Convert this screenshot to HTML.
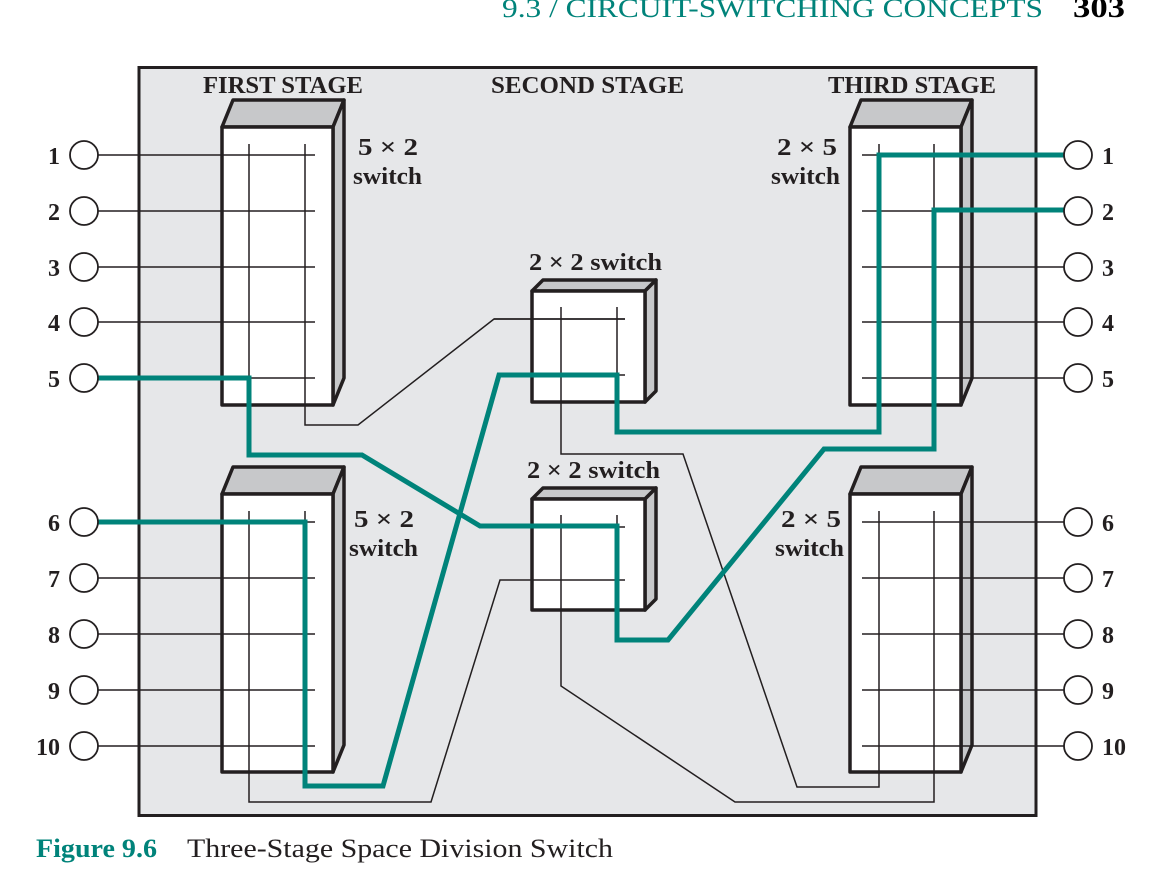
<!DOCTYPE html>
<html><head><meta charset="utf-8"><style>
html,body{margin:0;padding:0;background:#fff;}
svg{display:block;}
text{font-family:"Liberation Serif",serif;}
</style></head><body>
<svg width="1172" height="872" viewBox="0 0 1172 872" xmlns="http://www.w3.org/2000/svg">
<text x="502" y="17" font-size="26" fill="#00837a" textLength="541" lengthAdjust="spacingAndGlyphs">9.3 / CIRCUIT-SWITCHING CONCEPTS</text>
<text x="1073" y="17" font-size="28" font-weight="bold" fill="#000" textLength="52" lengthAdjust="spacingAndGlyphs">303</text>

<rect x="139" y="67.5" width="897" height="748" fill="#e6e7e9" stroke="#231f20" stroke-width="3"/>

<g font-size="24" font-weight="bold" fill="#231f20">
<text x="203" y="93" textLength="160" lengthAdjust="spacingAndGlyphs">FIRST STAGE</text>
<text x="491" y="93" textLength="193" lengthAdjust="spacingAndGlyphs">SECOND STAGE</text>
<text x="828" y="93" textLength="168" lengthAdjust="spacingAndGlyphs">THIRD STAGE</text>
<text x="358" y="155" textLength="60" lengthAdjust="spacingAndGlyphs">5 × 2</text>
<text x="353" y="184" textLength="69" lengthAdjust="spacingAndGlyphs">switch</text>
<text x="354" y="527" textLength="60" lengthAdjust="spacingAndGlyphs">5 × 2</text>
<text x="349" y="556" textLength="69" lengthAdjust="spacingAndGlyphs">switch</text>
<text x="777" y="155" textLength="60" lengthAdjust="spacingAndGlyphs">2 × 5</text>
<text x="771" y="184" textLength="69" lengthAdjust="spacingAndGlyphs">switch</text>
<text x="781" y="527" textLength="60" lengthAdjust="spacingAndGlyphs">2 × 5</text>
<text x="775" y="556" textLength="69" lengthAdjust="spacingAndGlyphs">switch</text>
<text x="529" y="270" textLength="133" lengthAdjust="spacingAndGlyphs">2 × 2 switch</text>
<text x="527" y="478" textLength="133" lengthAdjust="spacingAndGlyphs">2 × 2 switch</text>
</g>

<g stroke="#231f20" stroke-width="3.5" stroke-linejoin="round">
<polygon points="222,127 233,100 344,100 333,127" fill="#c7c8ca"/>
<polygon points="333,127 344,100 344,378 333,405" fill="#c7c8ca"/>
<rect x="222" y="127" width="111" height="278" fill="#fff"/>
<polygon points="222,494 233,467 344,467 333,494" fill="#c7c8ca"/>
<polygon points="333,494 344,467 344,745 333,772" fill="#c7c8ca"/>
<rect x="222" y="494" width="111" height="278" fill="#fff"/>
<polygon points="850,127 861,100 972,100 961,127" fill="#c7c8ca"/>
<polygon points="961,127 972,100 972,378 961,405" fill="#c7c8ca"/>
<rect x="850" y="127" width="111" height="278" fill="#fff"/>
<polygon points="850,494 861,467 972,467 961,494" fill="#c7c8ca"/>
<polygon points="961,494 972,467 972,745 961,772" fill="#c7c8ca"/>
<rect x="850" y="494" width="111" height="278" fill="#fff"/>
<polygon points="532,291 543,280 656,280 645,291" fill="#c7c8ca"/>
<polygon points="645,291 656,280 656,391 645,402" fill="#c7c8ca"/>
<rect x="532" y="291" width="113" height="111" fill="#fff"/>
<polygon points="532,499 543,488 656,488 645,499" fill="#c7c8ca"/>
<polygon points="645,499 656,488 656,599 645,610" fill="#c7c8ca"/>
<rect x="532" y="499" width="113" height="111" fill="#fff"/>
</g>

<g stroke="#231f20" stroke-width="1.5" fill="none">
<path d="M98,155H315M98,211H315M98,267H315M98,322H315M98,378H315"/>
<path d="M98,522H315M98,578H315M98,634H315M98,690H315M98,746H315"/>
<path d="M249,144V405M305,144V425H358L494,319H625"/>
<path d="M249,511V802H431L500,580H625M305,511V772"/>
<path d="M561,307V454H683L797,787H879V511M617,307V390M494,319H625M532,375H625"/>
<path d="M561,515V686L735,802H934V511M617,515V600M532,527H625"/>
<path d="M862,155H1064M862,211H1064M862,267H1064M862,322H1064M862,378H1064"/>
<path d="M862,522H1064M862,578H1064M862,634H1064M862,690H1064M862,746H1064"/>
<path d="M879,144V400M934,144V400"/>
</g>

<g stroke="#00837a" stroke-width="5" fill="none" stroke-linejoin="miter">
<path d="M98,522H305V786H383L499,375H617V432H879V155H1064"/>
<path d="M98,378H249V455H362L480,526H617V640H668L824,449H934V210H1064"/>
</g>

<g fill="#fff" stroke="#231f20" stroke-width="1.8">
<circle cx="84" cy="155" r="14"/><circle cx="84" cy="211" r="14"/><circle cx="84" cy="267" r="14"/><circle cx="84" cy="322" r="14"/><circle cx="84" cy="378" r="14"/>
<circle cx="84" cy="522" r="14"/><circle cx="84" cy="578" r="14"/><circle cx="84" cy="634" r="14"/><circle cx="84" cy="690" r="14"/><circle cx="84" cy="746" r="14"/>
<circle cx="1078" cy="155" r="14"/><circle cx="1078" cy="211" r="14"/><circle cx="1078" cy="267" r="14"/><circle cx="1078" cy="322" r="14"/><circle cx="1078" cy="378" r="14"/>
<circle cx="1078" cy="522" r="14"/><circle cx="1078" cy="578" r="14"/><circle cx="1078" cy="634" r="14"/><circle cx="1078" cy="690" r="14"/><circle cx="1078" cy="746" r="14"/>
</g>

<g font-size="24" font-weight="bold" fill="#231f20">
<g text-anchor="end">
<text x="60" y="164">1</text><text x="60" y="220">2</text><text x="60" y="276">3</text><text x="60" y="331">4</text><text x="60" y="387">5</text>
<text x="60" y="531">6</text><text x="60" y="587">7</text><text x="60" y="643">8</text><text x="60" y="699">9</text><text x="60" y="755">10</text>
</g>
<text x="1102" y="164">1</text><text x="1102" y="220">2</text><text x="1102" y="276">3</text><text x="1102" y="331">4</text><text x="1102" y="387">5</text>
<text x="1102" y="531">6</text><text x="1102" y="587">7</text><text x="1102" y="643">8</text><text x="1102" y="699">9</text><text x="1102" y="755">10</text>
</g>

<text x="36" y="857" font-size="26" font-weight="bold" fill="#00837a" textLength="121" lengthAdjust="spacingAndGlyphs">Figure 9.6</text>
<text x="187" y="857" font-size="26" fill="#231f20" textLength="426" lengthAdjust="spacingAndGlyphs">Three-Stage Space Division Switch</text>
</svg>
</body></html>
